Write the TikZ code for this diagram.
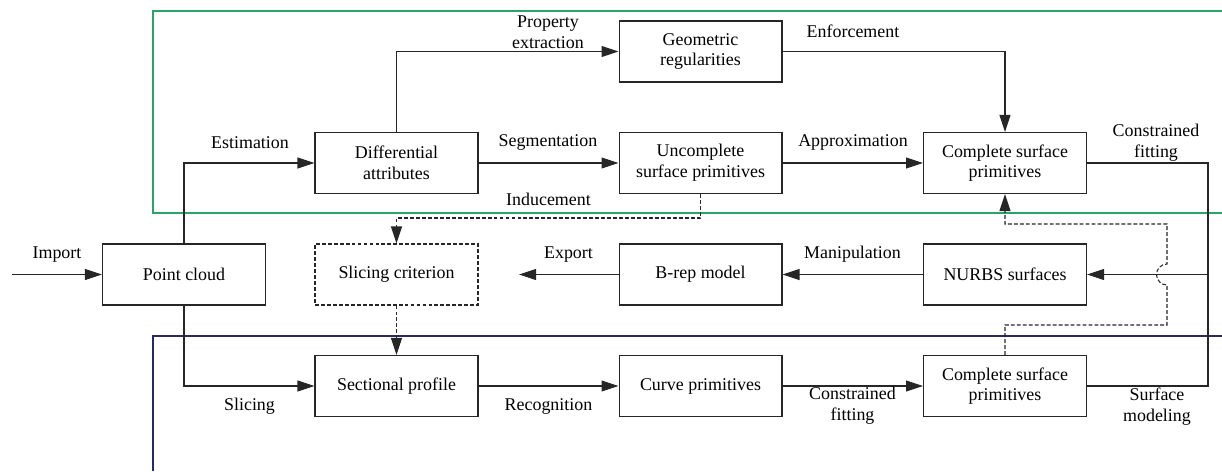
\documentclass[tikz,border=0pt]{standalone}
\usepackage{fontspec}
\setmainfont{Liberation Serif}
\usetikzlibrary{arrows.meta}
\definecolor{framegreen}{RGB}{40,165,105}
\definecolor{framenavy}{RGB}{40,40,110}
\tikzset{
  box/.style={draw=black!85, line width=0.6pt, minimum width=3.26cm,
    minimum height=1.22cm, align=center, inner sep=0pt},
  dashbox/.style={box, dash pattern=on 2.2pt off 1.2pt},
  lbl/.style={align=center, inner sep=0pt},
  link/.style={line width=0.6pt, draw=black!85},
  dashlink/.style={link, dash pattern=on 2.2pt off 1.2pt},
}
\begin{document}
\begin{tikzpicture}[x=0.02cm, y=-0.02cm,
    >={Triangle[length=0.34cm,width=0.22cm]},
    font=\fontsize{10.2}{11.8}\selectfont]
    \useasboundingbox (0,0) rectangle (1222,471);

    % frames
    \draw [framegreen, line width=0.6pt] (1222,11) -- (153,11) -- (153,213) -- (1222,213);
    \draw [framenavy, line width=0.6pt] (153,471) -- (153,336) -- (1222,336);

    % boxes
    \node [box] (cloud) at (184,274.5) {Point cloud};
    \node [box] (diff) at (396.5,163) {Differential\\attributes};
    \node [box] (geom) at (700.5,51.5) {Geometric\\regularities};
    \node [box] (uncomp) at (700.5,163) {Uncomplete\\surface primitives};
    \node [box] (comptop) at (1005,163) {Complete surface\\primitives};
    \node [dashbox] (crit) at (396.5,274.5) {Slicing criterion};
    \node [box] (brep) at (700.5,274.5) {B-rep model};
    \node [box] (nurbs) at (1005,274.5) {NURBS surfaces};
    \node [box] (profile) at (396.5,386) {Sectional profile};
    \node [box] (curve) at (700.5,386) {Curve primitives};
    \node [box] (compbot) at (1005,386) {Complete surface\\primitives};

    % free ends and bends
    \coordinate (importin) at (12,274.5);
    \coordinate (exportout) at (519,274.5);
    \coordinate (rail) at (1208,274.5);

    % solid connectors
    \draw [link,->] (importin) -- (cloud.west);
    \draw [link,->] (cloud.north) |- (diff.west);
    \draw [link,->] (cloud.south) |- (profile.west);
    \draw [link,->] (diff.north) |- (geom.west);
    \draw [link,->] (geom.east) -| (comptop.north);
    \draw [link,->] (diff.east) -- (uncomp.west);
    \draw [link,->] (uncomp.east) -- (comptop.west);
    \draw [link] (comptop.east) -- (comptop.east -| rail) -- (compbot.east -| rail) -- (compbot.east);
    \draw [link,->] (rail) -- (nurbs.east);
    \draw [link,->] (nurbs.west) -- (brep.east);
    \draw [link,->] (brep.west) -- (exportout);
    \draw [link,->] (profile.east) -- (curve.west);
    \draw [link,->] (curve.east) -- (compbot.west);

    % dashed connectors
    \draw [dashlink,->] (uncomp.south) |- (396.5,218) -- (crit.north);
    \draw [dashlink,->] (crit.south) -- (profile.north);
    \draw [dashlink,->] (compbot.north) |- (1167,325) -- (1167,285)
      arc [start angle=90, end angle=270, radius=10.5] -- (1167,224) -| (comptop.south);

    % labels
    \node [lbl] (limport) at (57,255) {Import};
    \node [lbl] (lestim) at (250,142.5) {Estimation};
    \node [lbl] (lprop) at (548,32) {Property\\extraction};
    \node [lbl] (lenf) at (853,31.5) {Enforcement};
    \node [lbl] (lseg) at (548,142.5) {Segmentation};
    \node [lbl] (lapprox) at (853,142.5) {Approximation};
    \node [lbl] (lfittop) at (1156,143) {Constrained\\fitting};
    \node [lbl] (linduce) at (548.5,199) {Inducement};
    \node [lbl] (lexport) at (568.5,254.5) {Export};
    \node [lbl] (lmanip) at (852.5,254.5) {Manipulation};
    \node [lbl] (lslice) at (249.5,406) {Slicing};
    \node [lbl] (lrecog) at (548.5,406) {Recognition};
    \node [lbl] (lfitbot) at (852.5,406) {Constrained\\fitting};
    \node [lbl] (lmodel) at (1157,406.5) {Surface\\modeling};
\end{tikzpicture}
\end{document}
